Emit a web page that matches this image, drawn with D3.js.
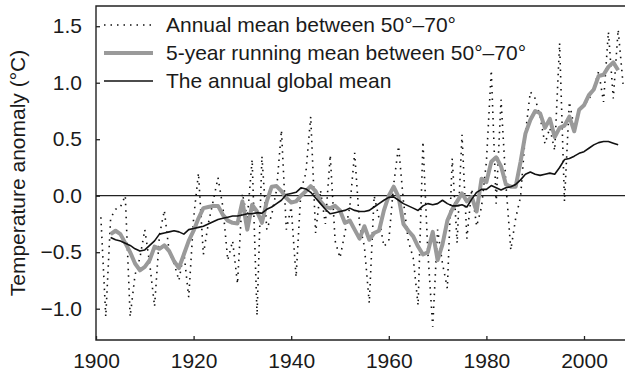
<!DOCTYPE html>
<html>
<head>
<meta charset="utf-8">
<script src="https://cdn.jsdelivr.net/npm/d3@7"></script>
<style>
  body { margin: 0; background: #fff; }
  svg text { font-family: "Liberation Sans", Arial, sans-serif; fill: #1a1a1a; }
</style>
</head>
<body>
<div id="container"></div>
<script>
// annual mean 50-70 (dotted), 1901..2008
var annualYears = d3.range(1901, 2009);
var annualValues = [
  -0.19, -1.07, -0.20, -0.12, -0.10, 0.00, -1.07, -0.70, -0.55, -0.30,
  -0.60, -0.98, -0.35, -0.13, -0.50, -0.60, -0.75, -0.50, -0.90, -0.20,
  0.20, -0.52, -0.25, -0.05, 0.16, -0.10, -0.57, -0.40, -0.78, 0.02,
  -0.20, 0.32, -1.06, 0.35, -0.30, -0.17, 0.05, 0.58, -0.30, -0.10,
  -0.72, 0.05, 0.20, 0.70, -0.33, 0.05, -0.25, 0.36, -0.40, -0.55,
  -0.33, -0.10, 0.38, -0.25, -0.45, -0.95, 0.00, -0.20, -0.45, -0.40,
  0.10, 0.44, -0.05, -0.40, -0.55, -0.97, 0.48, -0.50, -1.16, -0.30,
  -0.60, -0.82, 0.33, -0.42, 0.54, -0.38, 0.06, -0.27, -0.10, 0.30,
  1.11, -0.07, 0.85, 0.10, -0.48, -0.20, -0.01, 0.55, 0.92, 0.86,
  0.70, 0.46, 0.60, 0.40, 1.35, -0.05, 0.83, 0.60, 0.76, 0.80,
  0.85, 0.95, 1.10, 0.83, 1.45, 0.86, 1.47, 0.99
];

// 5-year running mean 50-70 (grey) and global mean (black), 1903..2007
var smoothYears = d3.range(1903, 2008);
var runningValues = [
  -0.34, -0.31, -0.34, -0.42, -0.50, -0.60, -0.66, -0.63, -0.57, -0.45,
  -0.47, -0.44, -0.49, -0.58, -0.64, -0.52, -0.40, -0.31, -0.20, -0.11,
  -0.10, -0.09, -0.09, -0.17, -0.22, -0.24, -0.245, -0.05, -0.30, -0.08,
  -0.14, -0.24, -0.05, 0.08, 0.085, 0.04, -0.02, -0.06, -0.05, 0.00,
  0.04, 0.085, 0.04, -0.05, -0.10, -0.11, -0.09, -0.13, -0.24, -0.22,
  -0.30, -0.38, -0.27, -0.39, -0.33, -0.31, -0.13, 0.00, 0.08, -0.01,
  -0.25, -0.31, -0.36, -0.45, -0.52, -0.50, -0.32, -0.57, -0.43, -0.22,
  -0.12, -0.05, 0.02, -0.05, -0.01, -0.14, 0.15, 0.12, 0.30, 0.34,
  0.26, 0.10, 0.08, 0.08, 0.30, 0.55, 0.67, 0.75, 0.73, 0.60,
  0.68, 0.52, 0.60, 0.62, 0.70, 0.57, 0.76, 0.80, 0.89, 0.94,
  1.06, 1.07, 1.14, 1.18, 1.11
];
var globalValues = [
  -0.37, -0.39, -0.40, -0.42, -0.44, -0.47, -0.49, -0.48, -0.44, -0.40,
  -0.34, -0.33, -0.32, -0.31, -0.32, -0.34, -0.30, -0.29, -0.28, -0.27,
  -0.25, -0.23, -0.21, -0.20, -0.19, -0.18, -0.18, -0.17, -0.16, -0.16,
  -0.15, -0.155, -0.12, -0.10, -0.07, -0.04, 0.01, 0.02, 0.03, 0.07,
  0.06, 0.03, -0.02, -0.07, -0.12, -0.16, -0.15, -0.14, -0.13, -0.11,
  -0.13, -0.14, -0.14, -0.13, -0.10, -0.07, -0.04, -0.015, -0.01, -0.04,
  -0.07, -0.09, -0.11, -0.13, -0.09, -0.07, -0.08, -0.07, -0.04, -0.07,
  -0.09, -0.09, -0.08, -0.10, -0.03, 0.03, 0.056, 0.056, 0.09, 0.07,
  0.05, 0.07, 0.08, 0.10, 0.14, 0.19, 0.21, 0.19, 0.18, 0.19,
  0.20, 0.19, 0.25, 0.32, 0.33, 0.35, 0.375, 0.39, 0.42, 0.45,
  0.47, 0.48, 0.48, 0.465, 0.45
];

var xTicks = [1900, 1920, 1940, 1960, 1980, 2000];
var yTicks = [-1.0, -0.5, 0.0, 0.5, 1.0, 1.5];
var legendLabels = [
  "Annual mean between 50°–70°",
  "5-year running mean between 50°–70°",
  "The annual global mean"
];

var W = 625, H = 373;
var mLeft = 96, mTop = 6, mBottom = 340;

var svg = d3.select('#container').append('svg')
  .attr('width', W).attr('height', H);

var x = d3.scaleLinear().domain([1900, 2010]).range([mLeft, mLeft + 110 * 4.88]);
var y = d3.scaleLinear().domain([-1.277, 1.679]).range([mBottom, mTop]);

svg.append('clipPath').attr('id', 'plot')
  .append('rect').attr('x', mLeft).attr('y', mTop)
  .attr('width', W - mLeft).attr('height', mBottom - mTop);

var g = svg.append('g').attr('clip-path', 'url(#plot)');

// zero line
g.append('line')
  .attr('x1', mLeft).attr('x2', W)
  .attr('y1', y(0)).attr('y2', y(0))
  .attr('stroke', '#222').attr('stroke-width', 1.2);

var line = d3.line().x(function(d) { return x(d[0]); }).y(function(d) { return y(d[1]); });

g.append('path')
  .datum(d3.zip(annualYears, annualValues))
  .attr('d', line)
  .attr('fill', 'none').attr('stroke', '#111')
  .attr('stroke-width', 1.6).attr('stroke-dasharray', '1.5,5');

g.append('path')
  .datum(d3.zip(smoothYears, runningValues))
  .attr('d', line)
  .attr('fill', 'none').attr('stroke', '#9a9a9a')
  .attr('stroke-width', 4).attr('stroke-linejoin', 'round');

g.append('path')
  .datum(d3.zip(smoothYears, globalValues))
  .attr('d', line)
  .attr('fill', 'none').attr('stroke', '#111')
  .attr('stroke-width', 1.6).attr('stroke-linejoin', 'round');

// axes
var xAxis = svg.append('g').attr('transform', 'translate(0,' + mBottom + ')')
  .call(d3.axisBottom(x).tickValues(xTicks).tickFormat(d3.format('d'))
    .tickSizeInner(-4).tickSizeOuter(0).tickPadding(13));
var yAxis = svg.append('g').attr('transform', 'translate(' + mLeft + ',0)')
  .call(d3.axisLeft(y).tickValues(yTicks).tickFormat(d3.format('.1f'))
    .tickSizeInner(-4).tickSizeOuter(0).tickPadding(14));

[xAxis, yAxis].forEach(function(a) {
  a.select('.domain').remove();
  a.selectAll('.tick line').attr('stroke', '#222').attr('stroke-width', 1.3);
  a.selectAll('.tick text').attr('font-size', 21).attr('fill', '#1a1a1a')
    .style('font-family', '"Liberation Sans", Arial, sans-serif');
});

// frame: left, bottom, top
svg.append('path')
  .attr('d', 'M' + W + ',' + mTop + 'H' + mLeft + 'V' + mBottom + 'H' + W)
  .attr('fill', 'none').attr('stroke', '#222').attr('stroke-width', 1.4);

svg.append('text')
  .attr('transform', 'translate(25,' + ((mTop + mBottom) / 2) + ') rotate(-90)')
  .attr('text-anchor', 'middle')
  .attr('font-size', 21)
  .text('Temperature anomaly (°C)');

// legend
var legendStyles = [
  { stroke: '#111', width: 1.6, dash: '1.5,5' },
  { stroke: '#9a9a9a', width: 4, dash: null },
  { stroke: '#111', width: 1.6, dash: null }
];
var leg = svg.append('g');
legendLabels.forEach(function(label, i) {
  var ly = 25 + i * 28;
  leg.append('line')
    .attr('x1', 104).attr('x2', 153).attr('y1', ly).attr('y2', ly)
    .attr('stroke', legendStyles[i].stroke)
    .attr('stroke-width', legendStyles[i].width)
    .attr('stroke-dasharray', legendStyles[i].dash);
  leg.append('text')
    .attr('x', 166).attr('y', ly).attr('dy', '0.35em')
    .attr('font-size', 21)
    .text(label);
});
</script>
</body>
</html>
